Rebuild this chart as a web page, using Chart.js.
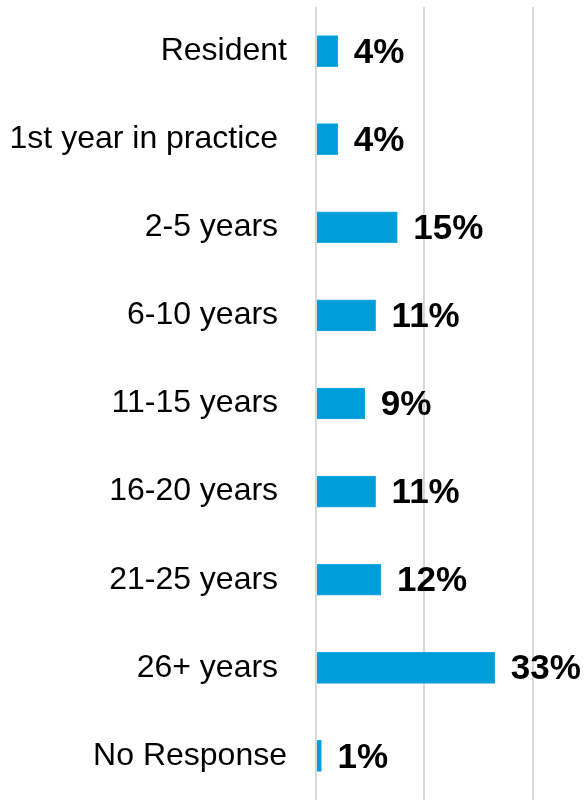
<!DOCTYPE html>
<html>
<head>
<meta charset="utf-8">
<script src="https://cdn.jsdelivr.net/npm/chart.js@4"></script>
<style>
  html, body { margin: 0; padding: 0; background: #fff; }
  #wrap { width: 587px; height: 800px; }
</style>
</head>
<body>
<div id="wrap"><canvas id="expChart"></canvas></div>
<script>
// trailing spaces are in the original labels
const categories = ['Resident', '1st year in practice ', '2-5 years ', '6-10 years ', '11-15 years ',
    '16-20 years ', '21-25 years ', '26+ years ', 'No Response'];
const percents = [4, 4, 15, 11, 9, 11, 12, 33, 1];
const gridTicks = [0, 20, 40];

const valueLabels = {
    id: 'valueLabels',
    afterDatasetsDraw(chart) {
        const ctx = chart.ctx;
        ctx.save();
        ctx.font = 'bold 35px "Liberation Sans", Arial, sans-serif';
        ctx.fillStyle = '#000';
        ctx.textBaseline = 'middle';
        ctx.textAlign = 'left';
        chart.getDatasetMeta(0).data.forEach((bar, i) => {
            ctx.fillText(percents[i] + '%', bar.x + 16, bar.y + 2);
        });
        ctx.restore();
    }
};

document.addEventListener('DOMContentLoaded', function() {
    const ctx = document.getElementById('expChart').getContext('2d');
    new Chart(ctx, {
        type: 'bar',
        data: {
            labels: categories,
            datasets: [{
                data: percents,
                backgroundColor: '#009ddb',
                borderColor: '#1ea9e0',
                borderWidth: 1,
                barThickness: 31
            }]
        },
        options: {
            indexAxis: 'y',
            responsive: true,
            maintainAspectRatio: false,
            animation: false,
            layout: { padding: { top: 7, right: 0, bottom: 0, left: 0 } },
            plugins: {
                legend: { display: false },
                tooltip: { enabled: false }
            },
            scales: {
                x: {
                    min: 0,
                    max: 50,
                    afterBuildTicks: axis => { axis.ticks = gridTicks.map(v => ({ value: v })); },
                    afterFit: axis => { axis.height = 0; axis.paddingLeft = 0; axis.paddingRight = 0; },
                    ticks: { display: false },
                    border: { display: false },
                    grid: { color: '#d9d9d9', lineWidth: 2, drawTicks: false }
                },
                y: {
                    afterFit: axis => { axis.width = 316; axis.paddingTop = 0; axis.paddingBottom = 0; },
                    ticks: {
                        color: '#000',
                        padding: 29,
                        font: { family: '"Liberation Sans", Arial, sans-serif', size: 32 }
                    },
                    border: { display: false },
                    grid: { display: false, drawTicks: false }
                }
            }
        },
        plugins: [valueLabels]
    });
});
</script>
</body>
</html>
